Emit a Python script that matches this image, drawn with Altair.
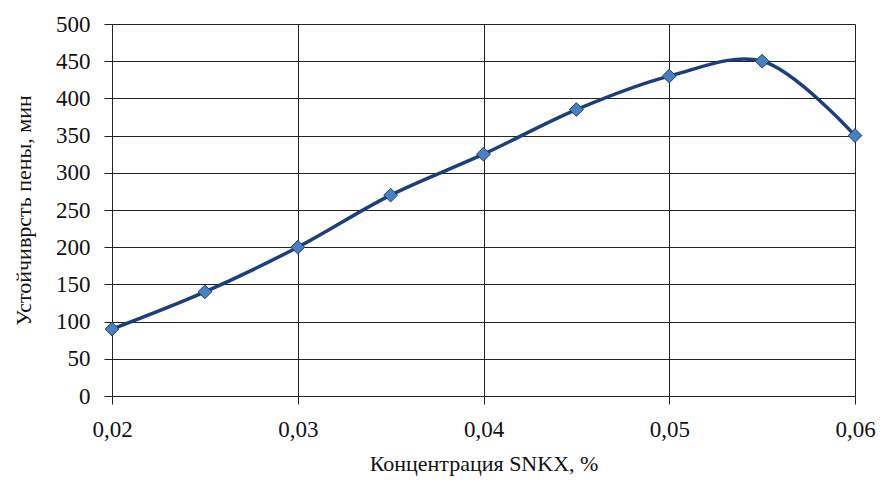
import altair as alt
import pandas as pd

conc = [0.02, 0.025, 0.03, 0.035, 0.04, 0.045, 0.05, 0.055, 0.06]
stab = [90, 140, 200, 270, 325, 385, 430, 450, 350]

df = pd.DataFrame({"x": conc, "y": stab})

FONT = "Liberation Serif"

x = alt.X("x:Q", title="Концентрация SNKX, %",
          scale=alt.Scale(domain=[0.02, 0.06], nice=False, zero=False),
          axis=alt.Axis(values=[0.02, 0.03, 0.04, 0.05, 0.06],
                        labelExpr="replace(format(datum.value, '.2f'), '.', ',')",
                        labelFlush=False, labelPadding=14, titlePadding=12))
y = alt.Y("y:Q", title="Устойчиврсть пены, мин",
          scale=alt.Scale(domain=[0, 500], nice=False),
          axis=alt.Axis(values=list(range(0, 501, 50)), labelFlush=False,
                        labelPadding=14, titlePadding=20))

line = alt.Chart(df).mark_line(color="#1c3f7c", strokeWidth=3.5, interpolate="catmull-rom").encode(x=x, y=y)
pts = alt.Chart(df).mark_point(shape="diamond", filled=True, size=190, color="#4a7fc0",
                               stroke="#1c3f7c", strokeWidth=1, opacity=1).encode(x=x, y=y)

chart = (line + pts).properties(
    width=743, height=372,
    autosize=alt.AutoSizeParams(type="none"),
    padding={"left": 104, "top": 16, "right": 22, "bottom": 84},
).configure_view(stroke=None).configure_axis(
    grid=True, gridColor="#222222", gridWidth=1, gridOpacity=1,
    domainColor="#222222", tickColor="#222222", tickSize=8,
    labelFont=FONT, labelFontSize=23, labelColor="#111111",
    titleFont=FONT, titleFontSize=22, titleFontWeight="normal", titleColor="#111111",
)

chart.save("out.html", embed_options={"renderer": "svg", "actions": False})
